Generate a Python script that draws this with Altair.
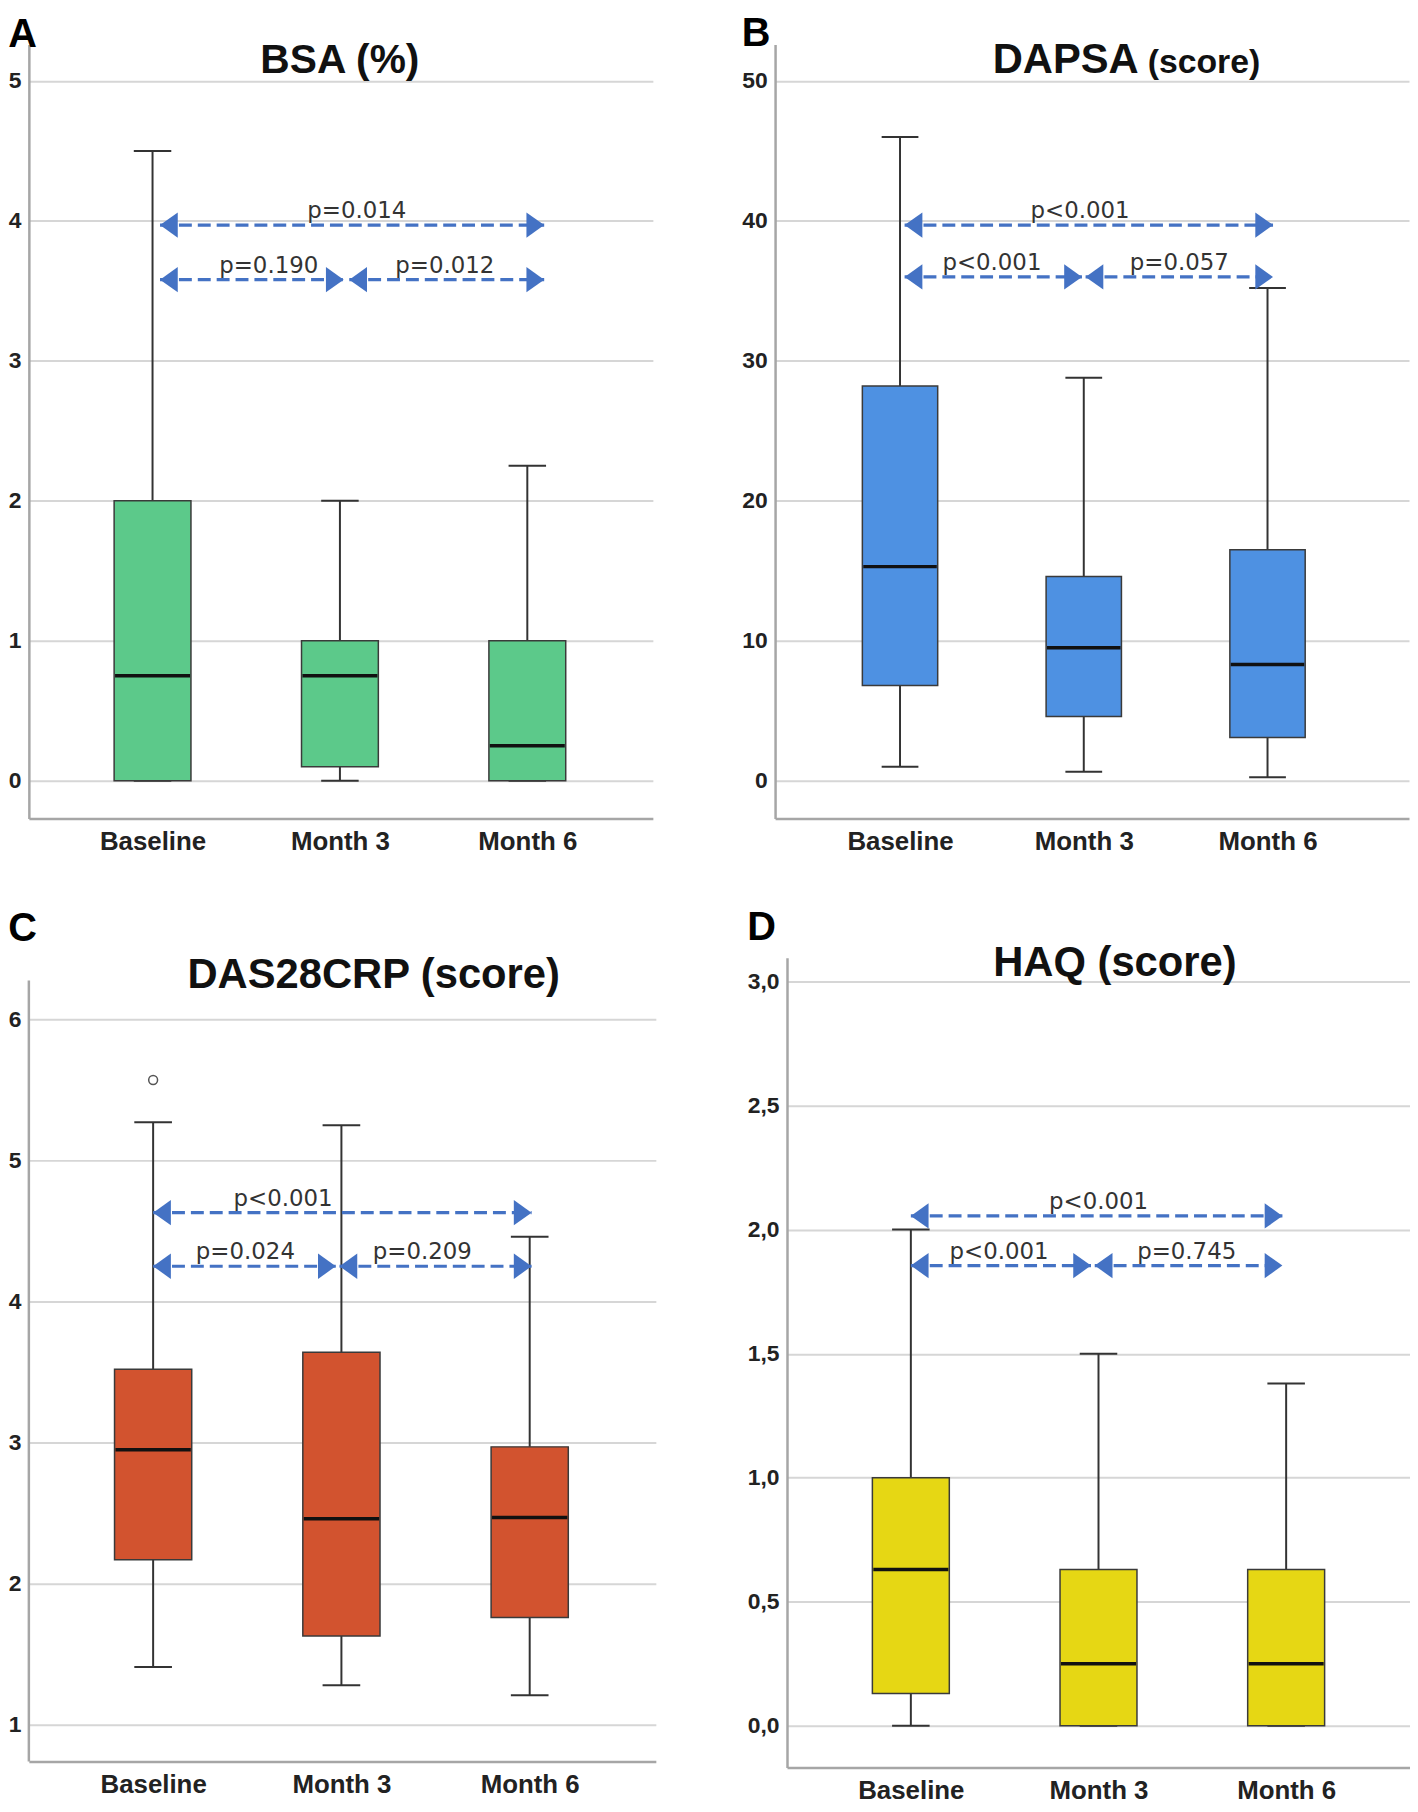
import altair as alt
import pandas as pd

categories = ["Baseline", "Month 3", "Month 6"]
positions = [0, 1, 2]

# ---- Panel A: BSA (%) ----
bsa_min = [0.0, 0.0, 0.0]
bsa_q1 = [0.0, 0.1, 0.0]
bsa_med = [0.75, 0.75, 0.25]
bsa_q3 = [2.0, 1.0, 1.0]
bsa_max = [4.5, 2.0, 2.25]
bsa_arrow_from = [0.04, 0.04, 1.05]
bsa_arrow_to = [2.09, 1.02, 2.09]
bsa_arrow_y = [3.97, 3.58, 3.58]
bsa_p_text = ["p=0.014", "p=0.190", "p=0.012"]
bsa_p_x = [1.09, 0.62, 1.56]
bsa_ticks = [0, 1, 2, 3, 4, 5]

# ---- Panel B: DAPSA (score) ----
dapsa_min = [1.0, 0.65, 0.25]
dapsa_q1 = [6.8, 4.6, 3.1]
dapsa_med = [15.3, 9.5, 8.3]
dapsa_q3 = [28.2, 14.6, 16.5]
dapsa_max = [46.0, 28.8, 35.2]
dapsa_arrow_from = [0.025, 0.025, 1.01]
dapsa_arrow_to = [2.03, 0.99, 2.03]
dapsa_arrow_y = [39.7, 36.0, 36.0]
dapsa_p_text = ["p<0.001", "p<0.001", "p=0.057"]
dapsa_p_x = [0.98, 0.5, 1.52]
dapsa_ticks = [0, 10, 20, 30, 40, 50]

# ---- Panel C: DAS28CRP (score) ----
das_min = [1.41, 1.28, 1.21]
das_q1 = [2.17, 1.63, 1.76]
das_med = [2.95, 2.46, 2.47]
das_q3 = [3.52, 3.64, 2.97]
das_max = [5.27, 5.25, 4.46]
das_outlier_pos = [0]
das_outlier_val = [5.57]
das_arrow_from = [0.0, 0.0, 0.99]
das_arrow_to = [2.01, 0.97, 2.01]
das_arrow_y = [4.63, 4.25, 4.25]
das_p_text = ["p<0.001", "p=0.024", "p=0.209"]
das_p_x = [0.69, 0.49, 1.43]
das_ticks = [1, 2, 3, 4, 5, 6]

# ---- Panel D: HAQ (score) ----
haq_min = [0.0, 0.0, 0.0]
haq_q1 = [0.13, 0.0, 0.0]
haq_med = [0.63, 0.25, 0.25]
haq_q3 = [1.0, 0.63, 0.63]
haq_max = [2.0, 1.5, 1.38]
haq_arrow_from = [0.0, 0.0, 0.98]
haq_arrow_to = [1.98, 0.96, 1.98]
haq_arrow_y = [2.055, 1.855, 1.855]
haq_p_text = ["p<0.001", "p<0.001", "p=0.745"]
haq_p_x = [1.0, 0.47, 1.47]
haq_ticks = [0.0, 0.5, 1.0, 1.5, 2.0, 2.5, 3.0]

ARROW_COLOR = "#4472C4"
LABEL_FONT = "Liberation Sans"
P_FONT = "DejaVu Sans"
AXIS_GRAY = "#a6a6a6"

RIGHT_HEAD = "M0,0 L-1.4,-1 L-1.4,1 Z"
LEFT_HEAD = "M0,0 L1.4,-1 L1.4,1 Z"


def panel(letter, color, mins, q1s, meds, q3s, maxs,
          a_from, a_to, a_y, p_text, p_x,
          ticks, ydomain, xdomain, width, height,
          title_parts, letter_offset, y_label_expr=None,
          outlier_pos=None, outlier_val=None, yaxis_line_from=None):
    stats = pd.DataFrame({
        "cat": categories, "pos": positions,
        "mn": mins, "q1": q1s, "med": meds, "q3": q3s, "mx": maxs,
    })
    arrows = pd.DataFrame({"x1": a_from, "x2": a_to, "y": a_y,
                           "label": p_text, "lx": p_x})

    xscale = alt.Scale(domain=xdomain, nice=False, zero=False)
    yscale = alt.Scale(domain=ydomain, nice=False, zero=False)
    xaxis = alt.Axis(values=positions, labelExpr=f"{categories}[datum.value]",
                     grid=False, ticks=False, domainColor=AXIS_GRAY, domainWidth=2.5,
                     labelFont=LABEL_FONT, labelFontSize=26, labelFontWeight="bold",
                     labelColor="#222222", labelPadding=10, title=None)
    yaxis_kw = dict(values=ticks, grid=True, gridColor="#d6d6d6", gridWidth=2,
                    ticks=False, domain=yaxis_line_from is None,
                    domainColor=AXIS_GRAY, domainWidth=2.5,
                    labelFont=LABEL_FONT, labelFontSize=23, labelFontWeight="bold",
                    labelColor="#222222", labelPadding=8, title=None)
    if y_label_expr:
        yaxis_kw["labelExpr"] = y_label_expr
    yaxis = alt.Axis(**yaxis_kw)

    def X(f):
        return alt.X(f, type="quantitative", scale=xscale, axis=xaxis)

    def Y(f):
        return alt.Y(f, type="quantitative", scale=yscale, axis=yaxis)

    base = alt.Chart(stats)

    lower_whisk = base.mark_rule(color="#333333", strokeWidth=2).encode(
        x=X("pos"), y=Y("mn"), y2="q1")
    upper_whisk = base.mark_rule(color="#333333", strokeWidth=2).encode(
        x=X("pos"), y=Y("q3"), y2="mx")
    caps = base.transform_calculate(
        cl="datum.pos - 0.1", cr="datum.pos + 0.1"
    ).transform_fold(["mn", "mx"], as_=["which", "v"]).mark_rule(
        color="#333333", strokeWidth=2).encode(x=X("cl"), x2="cr", y=Y("v"))
    boxes = base.transform_calculate(
        bl="datum.pos - 0.205", br="datum.pos + 0.205"
    ).mark_rect(fill=color, stroke="#3a3a3a", strokeWidth=1.5).encode(
        x=X("bl"), x2="br", y=Y("q1"), y2="q3")
    medians = base.transform_calculate(
        bl="datum.pos - 0.2", br="datum.pos + 0.2"
    ).mark_rule(color="#111111", strokeWidth=3.5).encode(
        x=X("bl"), x2="br", y=Y("med"))

    abase = alt.Chart(arrows)
    arrow_lines = abase.mark_rule(color=ARROW_COLOR, strokeWidth=3.2,
                                  strokeDash=[13, 6]).encode(
        x=X("x1"), x2="x2", y=Y("y"))
    left_heads = abase.mark_point(shape=LEFT_HEAD, filled=True, size=650,
                                  color=ARROW_COLOR, opacity=1).encode(
        x=X("x1"), y=Y("y"))
    right_heads = abase.mark_point(shape=RIGHT_HEAD, filled=True, size=650,
                                   color=ARROW_COLOR, opacity=1).encode(
        x=X("x2"), y=Y("y"))
    p_labels = abase.mark_text(font=P_FONT, fontSize=23, color="#333333",
                               baseline="alphabetic", align="center", dy=-7).encode(
        x=X("lx"), y=Y("y"), text="label:N")

    layers = []
    if yaxis_line_from is not None:
        layers.append(alt.Chart(pd.DataFrame({"k": [0]})).mark_rule(
            color=AXIS_GRAY, strokeWidth=2.5).encode(
            x=alt.value(0), y=alt.value(yaxis_line_from), y2=alt.value(height)))
    layers += [lower_whisk, upper_whisk, caps, boxes, medians]
    if outlier_pos is not None:
        out_df = pd.DataFrame({"pos": outlier_pos, "v": outlier_val})
        layers.append(alt.Chart(out_df).mark_point(
            shape="circle", filled=False, size=80, color="#555555",
            strokeWidth=1.5, opacity=1).encode(x=X("pos"), y=Y("v")))
    layers += [arrow_lines, left_heads, right_heads, p_labels]

    for (txt, size, align, px, py) in title_parts:
        layers.append(alt.Chart(pd.DataFrame({"t": [txt]})).mark_text(
            font=LABEL_FONT, fontSize=size, fontWeight="bold", color="#111111",
            align=align, baseline="alphabetic").encode(
            text="t:N", x=alt.value(px), y=alt.value(py)))

    return alt.layer(*layers).properties(
        width=width, height=height,
        title=alt.TitleParams(text=letter, anchor="start", frame="bounds",
                              font=LABEL_FONT, fontSize=40, fontWeight="bold",
                              color="#000000", offset=letter_offset))


pA = panel("A", "#5CC98A", bsa_min, bsa_q1, bsa_med, bsa_q3, bsa_max,
           bsa_arrow_from, bsa_arrow_to, bsa_arrow_y, bsa_p_text, bsa_p_x,
           bsa_ticks, [-0.27, 5.26], [-0.66, 2.67], 628, 779,
           [("BSA (%)", 41, "center", 313, 29)], -14)

pB = panel("B", "#4E91E2", dapsa_min, dapsa_q1, dapsa_med, dapsa_q3, dapsa_max,
           dapsa_arrow_from, dapsa_arrow_to, dapsa_arrow_y, dapsa_p_text, dapsa_p_x,
           dapsa_ticks, [-2.7, 52.6], [-0.68, 2.77], 638, 779,
           [("DAPSA", 42, "right", 366, 29), ("(score)", 34, "left", 375, 29)], -14)

pC = panel("C", "#D2532F", das_min, das_q1, das_med, das_q3, das_max,
           das_arrow_from, das_arrow_to, das_arrow_y, das_p_text, das_p_x,
           das_ticks, [0.74, 6.437], [-0.66, 2.67], 631, 809,
           [("DAS28CRP (score)", 42, "center", 347, 31)], 6,
           outlier_pos=das_outlier_pos, outlier_val=das_outlier_val,
           yaxis_line_from=23)

pD = panel("D", "#E6D714", haq_min, haq_q1, haq_med, haq_q3, haq_max,
           haq_arrow_from, haq_arrow_to, haq_arrow_y, haq_p_text, haq_p_x,
           haq_ticks, [-0.168, 3.096], [-0.66, 2.66], 627, 815,
           [("HAQ (score)", 42, "center", 330, 18)], -6,
           y_label_expr="replace(format(datum.value, '.1f'), '.', ',')")

chart = alt.vconcat(
    alt.hconcat(pA, pB, spacing=89),
    alt.hconcat(pC, pD, spacing=92),
    spacing=54,
).configure_view(stroke=None).properties(
    background="white",
    padding={"left": 0, "top": 0, "right": 0, "bottom": 0})

chart.save("out.html", embed_options={"renderer": "svg", "actions": False})
